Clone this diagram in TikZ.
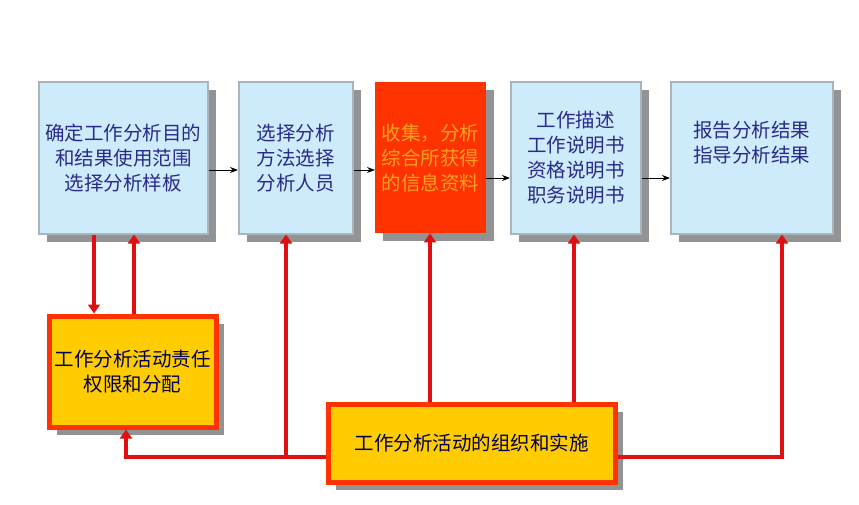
\documentclass[tikz,border=0pt]{standalone}
\usepackage{fontspec}
\setmainfont{Noto Sans CJK SC}
\usetikzlibrary{positioning,arrows.meta,shadows}
\definecolor{boxblue}{HTML}{CDEBFA}
\definecolor{boxedge}{HTML}{A9B4BC}
\definecolor{txtblue}{HTML}{2A2A8A}
\definecolor{hotred}{HTML}{FF3300}
\definecolor{gold}{HTML}{FFCC00}
\definecolor{linered}{HTML}{E01010}
\definecolor{txtorange}{HTML}{FFA020}
\begin{document}
\begin{tikzpicture}[
    x=1pt, y=-1pt,
    every node/.style={font=\fontsize{19.5}{25}\selectfont, align=center, inner sep=0pt},
    shade/.style={drop shadow={shadow xshift=8pt, shadow yshift=-8pt, opacity=1, fill=gray!85}},
    block/.style={rectangle, draw=boxedge, line width=1.5pt, fill=boxblue, text=txtblue, anchor=north west, shade},
    goldblock/.style={rectangle, draw=hotred, line width=5pt, fill=gold, text=black!70!blue, anchor=north west, shade},
    arrow/.style={-{Stealth[length=8pt]}, line width=0.9pt},
    redarrow/.style={-{Triangle[length=9pt,width=12pt]}, line width=4pt, draw=linered}
]
    \useasboundingbox (0,0) rectangle (859,504);
    % Nodes
    \node[block, minimum width=169pt, minimum height=152pt] (aim) at (38,81) {确定工作分析目的\\和结果使用范围\\选择分析样板};
    \node[block, minimum width=114pt, minimum height=152pt] (method) at (238,81) {选择分析\\方法选择\\分析人员};
    \node[rectangle, fill=hotred, text=txtorange, anchor=north west, shade, minimum width=111pt, minimum height=151pt] (collect) at (375,82) {收集，分析\\综合所获得\\的信息资料};
    \node[block, minimum width=130pt, minimum height=152pt] (desc) at (510,81) {工作描述\\工作说明书\\资格说明书\\职务说明书};
    \node[block, minimum width=162pt, minimum height=152pt] (report) at (670,81) {报告分析结果\\指导分析结果\\[6pt]};
    \node[goldblock, minimum width=167pt, minimum height=111pt] (duty) at (46.5,313.5) {工作分析活动责任\\权限和分配};
    \node[goldblock, minimum width=287pt, minimum height=78pt] (org) at (325.5,401.5) {工作分析活动的组织和实施};
    \coordinate (corner) at (126,457);

    % Arrows
    \draw[arrow] (aim.east |- 0,170) -- (method.west |- 0,170);
    \draw[arrow] (method.east |- 0,170) -- (collect.west |- 0,170);
    \draw[arrow] (collect.east |- 0,178) -- (desc.west |- 0,178);
    \draw[arrow] (desc.east |- 0,178) -- (report.west |- 0,178);
    \draw[redarrow] (aim.south -| 94,0) -- (duty.north -| 94,0);
    \draw[redarrow] (duty.north -| 134,0) -- (aim.south -| 134,0);
    \draw[redarrow] (org.west |- corner) -- (corner) -- (duty.south -| corner);
    \draw[redarrow] (286,457) -- (method.south -| 286,0);
    \draw[redarrow] (org.north -| 430,0) -- (collect.south -| 430,0);
    \draw[redarrow] (org.north -| 574,0) -- (desc.south -| 574,0);
    \draw[redarrow] (org.east |- corner) -- (782,457) -- (report.south -| 782,0);
\end{tikzpicture}
\end{document}
